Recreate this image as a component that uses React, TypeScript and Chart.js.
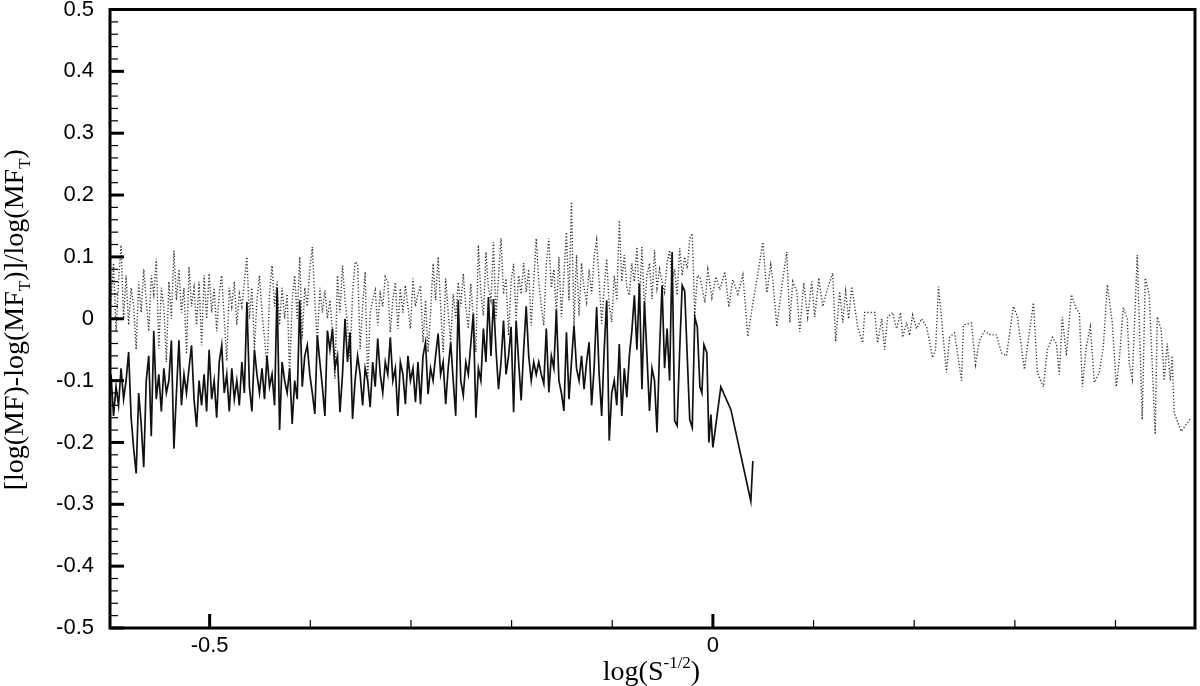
import React, { useEffect, useRef } from "react";
import { Chart, registerables } from "chart.js";

Chart.register(...registerables);

// ---- data ----
const X_START = -0.598;
const X_STEP = 0.0025;

const SOLID_DENSE = [
  -0.09, -0.157, -0.11, -0.14, -0.08, -0.13, -0.1, -0.054, -0.16, -0.21,
  -0.25, -0.12, -0.17, -0.24, -0.1, -0.06, -0.19, -0.02, -0.13, -0.09,
  -0.15, -0.08, -0.12, -0.1, -0.035, -0.21, -0.12, -0.035, -0.14, -0.09,
  -0.12, -0.08, -0.043, -0.13, -0.175, -0.1, -0.14, -0.09, -0.15, -0.05,
  -0.13, -0.1, -0.16, -0.07, -0.043, -0.12, -0.09, -0.15, -0.08, -0.13,
  -0.1, -0.14, -0.07, -0.12, 0.027, -0.11, -0.15, -0.05, -0.09, -0.12,
  -0.08, -0.13, -0.06, -0.11, -0.09, -0.14, 0.05, -0.18, -0.07, -0.1,
  -0.12, -0.08, -0.17, -0.1, -0.13, 0.03, -0.11, -0.06, -0.043, -0.09,
  -0.12, -0.154, -0.027, -0.07, -0.11, -0.157, -0.019, -0.05, -0.016, -0.08,
  -0.06, -0.151, -0.09, 0.0, -0.07, -0.022, -0.162, -0.1, -0.06, -0.09,
  -0.14, -0.08, -0.1, -0.143, -0.07, -0.11, -0.032, -0.09, -0.12, -0.07,
  -0.09, -0.03, -0.1, -0.08, -0.157, -0.07, -0.09, -0.138, -0.06, -0.1,
  -0.08, -0.135, -0.07, -0.138, -0.06, -0.038, -0.122, -0.08, -0.1, -0.06,
  -0.024, -0.09, -0.07, -0.138, -0.08, -0.038, -0.1, -0.157, 0.03, -0.1,
  -0.124, -0.07, -0.09, -0.04, 0.008, -0.16, -0.08, -0.1, -0.016, -0.07,
  0.035, -0.06, 0.032, -0.05, -0.114, -0.07, -0.003, -0.09, -0.06, -0.013,
  -0.151, -0.003, -0.07, -0.132, -0.05, 0.02, -0.06, -0.1, -0.07, -0.09,
  -0.07, -0.09, -0.105, -0.016, -0.119, -0.06, -0.08, 0.014, -0.1, -0.12,
  -0.149, -0.022, -0.13, -0.07, -0.011, -0.08, -0.1, -0.06, -0.114, -0.07,
  -0.038, -0.14, -0.08, 0.019, -0.09, -0.157, -0.05, 0.03, -0.197, -0.12,
  -0.1, -0.14, -0.041, -0.157, -0.08, -0.127, -0.06, -0.02, 0.038, -0.05,
  0.057, -0.114, 0.028, -0.06, -0.149, -0.08, -0.1, -0.184, -0.05, 0.054,
  -0.08, -0.016, -0.1, 0.108, -0.165, -0.173, -0.05, 0.054, 0.045, -0.06,
  -0.163, -0.176, 0.003, -0.013,
];

const SOLID_TAIL_X = [-0.0129, -0.0109, -0.0089, -0.006, -0.004, -0.002, 0.0, 0.0079, 0.0179, 0.0377, 0.0397];
const SOLID_TAIL_Y = [-0.11, -0.12, -0.042, -0.055, -0.2, -0.155, -0.208, -0.11, -0.147, -0.295, -0.23];

const DOTTED_DENSE = [
  0.03, 0.09, -0.02, 0.06, 0.119, 0.0, 0.07, -0.01, 0.05, 0.02,
  -0.05, 0.06, 0.01, 0.08, 0.03, -0.02, 0.07, 0.04, 0.097, -0.048,
  0.05, 0.02, -0.07, 0.06, 0.0, 0.11, 0.03, 0.08, 0.01, 0.05,
  -0.057, 0.084, 0.02, 0.05, -0.01, 0.06, -0.043, 0.07, 0.0, 0.073,
  0.01, 0.05, -0.02, 0.04, 0.07, 0.0, -0.068, 0.05, 0.02, 0.06,
  -0.01, 0.04, 0.02, 0.06, 0.1, 0.0, 0.05, -0.049, 0.03, 0.07,
  0.01, -0.03, -0.081, 0.04, 0.086, 0.02, 0.06, -0.01, 0.05, 0.0,
  0.04, -0.092, 0.03, 0.07, 0.0, 0.1, -0.032, 0.05, 0.02, 0.08,
  0.116, 0.03, -0.038, 0.05, 0.01, 0.046, 0.0, 0.03, -0.02, -0.097,
  0.07, 0.01, 0.086, 0.03, -0.01, -0.065, 0.04, 0.092, 0.089, -0.049,
  0.02, 0.076, -0.103, 0.01, 0.03, 0.046, -0.011, 0.04, 0.02, 0.068,
  0.059, -0.022, 0.03, 0.059, -0.016, 0.049, 0.01, 0.054, 0.02, -0.016,
  0.065, 0.02, 0.04, 0.054, -0.038, 0.03, -0.054, 0.01, 0.089, 0.03,
  0.1, 0.02, -0.054, 0.065, 0.01, -0.038, 0.04, 0.0, 0.059, 0.02,
  0.073, 0.02, -0.016, 0.057, 0.0, -0.054, 0.119, 0.04, 0.005, 0.108,
  0.05, 0.03, 0.124, 0.0, 0.07, 0.13, 0.04, 0.065, -0.027, 0.06,
  0.089, 0.0, 0.07, 0.04, 0.09, 0.043, 0.08, -0.011, 0.06, 0.13,
  0.06, 0.02, -0.011, 0.09, 0.13, 0.05, 0.08, 0.005, 0.1, 0.003,
  0.07, 0.14, 0.03, 0.189, -0.011, 0.103, 0.005, 0.09, 0.05, 0.027,
  0.08, 0.04, 0.1, 0.127, 0.06, -0.008, 0.05, 0.097, 0.02, -0.005,
  0.07, 0.03, 0.159, 0.06, 0.103, 0.05, 0.038, 0.09, 0.06, 0.116,
  0.027, 0.116, 0.016, 0.07, 0.09, 0.032, 0.111, 0.05, 0.08, 0.06,
  0.043, 0.09, 0.111, 0.06, 0.08, 0.038, 0.114, 0.07, 0.1, 0.081,
  0.13, 0.138, 0.003, 0.07,
];

const DOTTED_TAIL_X = [
  -0.0129, -0.0079, -0.005, -0.001, 0.003, 0.0069, 0.0119, 0.0159, 0.0198, 0.0248,
  0.0298, 0.0347, 0.0387, 0.0437, 0.0496, 0.0536, 0.0575, 0.0595, 0.0635, 0.0685,
  0.0734, 0.0764, 0.0794, 0.0833, 0.0863, 0.0903, 0.0942, 0.0982, 0.1012, 0.1052,
  0.1091, 0.1131, 0.119, 0.122, 0.126, 0.129, 0.1319, 0.1349, 0.1379, 0.1409,
  0.1438, 0.1488, 0.1508, 0.1558, 0.1607, 0.1637, 0.1677, 0.1706, 0.1736, 0.1786,
  0.1825, 0.1865, 0.1885, 0.1925, 0.1954, 0.1984, 0.2024, 0.2073, 0.2123, 0.2183,
  0.2212, 0.2242, 0.2321, 0.2351, 0.2401, 0.247, 0.249, 0.2569, 0.2609, 0.2649,
  0.2698, 0.2758, 0.2817, 0.2867, 0.2917, 0.2986, 0.3026, 0.3095, 0.3125, 0.3185,
  0.3224, 0.3284, 0.3323, 0.3373, 0.3413, 0.3442, 0.3472, 0.3512, 0.3562, 0.3611,
  0.3641, 0.3671, 0.371, 0.375, 0.379, 0.3839, 0.3879, 0.3919, 0.3968, 0.4008,
  0.4038, 0.4077, 0.4117, 0.4137, 0.4167, 0.4216, 0.4266, 0.4296, 0.4335, 0.4395,
  0.4415, 0.4454, 0.4484, 0.4514, 0.4544, 0.4563, 0.4583, 0.4653, 0.4752,
];
const DOTTED_TAIL_Y = [
  0.068, 0.026, 0.079, 0.034, 0.068, 0.047, 0.076, 0.019, 0.063, 0.04,
  0.071, -0.029, 0.015, 0.063, 0.124, 0.042, 0.087, 0.063, -0.013, 0.052,
  0.108, -0.006, 0.06, 0.044, -0.021, 0.058, 0.003, 0.06, 0.003, 0.066,
  0.02, 0.044, 0.074, -0.037, 0.044, -0.006, 0.044, 0.0, 0.052, 0.02,
  -0.013, -0.039, 0.01, 0.01, 0.01, -0.039, 0.0, -0.05, 0.003, 0.01,
  -0.016, 0.01, -0.03, -0.006, -0.027, 0.006, -0.016, 0.0, -0.013, -0.063,
  -0.05, 0.052, -0.087, -0.03, -0.023, -0.1, -0.01, -0.007, -0.074, -0.035,
  -0.02, -0.026, -0.026, -0.055, -0.06, 0.02, 0.003, -0.082, -0.045, 0.026,
  -0.087, -0.11, -0.05, -0.03, -0.04, -0.09, 0.003, -0.06, 0.039, 0.015,
  0.01, -0.11, -0.045, -0.013, -0.103, -0.087, -0.045, 0.055, -0.006, -0.11,
  -0.066, 0.018, 0.0, -0.072, -0.098, 0.103, -0.163, 0.066, 0.039, -0.187,
  0.003, -0.018, -0.1, -0.04, -0.1, -0.06, -0.152, -0.182, -0.16,
];

const X_MIN = -0.599;
const X_MAX = 0.479;
const Y_MIN = -0.5;
const Y_MAX = 0.5;
const X_TICKS = [-0.5, 0];
const X_MINOR_TICKS = [-0.4, -0.3, -0.2, -0.1, 0.1, 0.2, 0.3, 0.4];
const Y_TICKS = [0.5, 0.4, 0.3, 0.2, 0.1, 0, -0.1, -0.2, -0.3, -0.4, -0.5];
const Y_MINOR_PER_MAJOR = 5;

const Y_TITLE_PARTS = [
  { t: "[log(MF)-log(MF", k: 0 },
  { t: "T", k: -1 },
  { t: ")]/log(MF", k: 0 },
  { t: "T", k: -1 },
  { t: ")", k: 0 },
];
const X_TITLE_PARTS = [
  { t: "log(S", k: 0 },
  { t: "-1/2", k: 1 },
  { t: ")", k: 0 },
];

const SERIF = "'Liberation Serif', 'Times New Roman', serif";
const SANS = "'Liberation Sans', Arial, sans-serif";

function drawParts(ctx: CanvasRenderingContext2D, parts: { t: string; k: number }[], size: number) {
  const fontOf = (k: number) => `${k === 0 ? size : Math.round(size * 0.6)}px ${SERIF}`;
  const widths = parts.map((p) => {
    ctx.font = fontOf(p.k);
    return ctx.measureText(p.t).width;
  });
  const total = widths.reduce((a, b) => a + b, 0);
  let x = -total / 2;
  ctx.textAlign = "left";
  ctx.textBaseline = "alphabetic";
  parts.forEach((p, i) => {
    ctx.font = fontOf(p.k);
    const dy = p.k === -1 ? size * 0.25 : p.k === 1 ? -size * 0.42 : 0;
    ctx.fillText(p.t, x, dy);
    x += widths[i];
  });
}

const framePlugin = {
  id: "frameAndTitles",
  afterDatasetsDraw(chart: any) {
    const { ctx, chartArea: a, scales } = chart;
    const xs = scales.x;
    const ys = scales.y;
    ctx.save();
    ctx.strokeStyle = "#000";
    ctx.lineCap = "butt";
    // y minor ticks
    ctx.lineWidth = 1.2;
    for (let i = 0; i < Y_TICKS.length - 1; i++) {
      const v0 = Y_TICKS[i];
      const v1 = Y_TICKS[i + 1];
      for (let j = 1; j < Y_MINOR_PER_MAJOR; j++) {
        const v = v0 + ((v1 - v0) * j) / Y_MINOR_PER_MAJOR;
        const py = ys.getPixelForValue(v);
        ctx.beginPath();
        ctx.moveTo(a.left, py);
        ctx.lineTo(a.left + 8, py);
        ctx.stroke();
      }
    }
    // y major ticks
    ctx.lineWidth = 3;
    Y_TICKS.forEach((v) => {
      const py = ys.getPixelForValue(v);
      ctx.beginPath();
      ctx.moveTo(a.left, py);
      ctx.lineTo(a.left + 14, py);
      ctx.stroke();
    });
    // x minor ticks
    ctx.lineWidth = 1.2;
    X_MINOR_TICKS.forEach((v) => {
      const px = xs.getPixelForValue(v);
      ctx.beginPath();
      ctx.moveTo(px, a.bottom);
      ctx.lineTo(px, a.bottom - 8);
      ctx.stroke();
    });
    // x major ticks
    ctx.lineWidth = 3;
    X_TICKS.forEach((v) => {
      const px = xs.getPixelForValue(v);
      ctx.beginPath();
      ctx.moveTo(px, a.bottom);
      ctx.lineTo(px, a.bottom - 14);
      ctx.stroke();
    });
    // frame
    ctx.lineWidth = 3;
    ctx.strokeRect(a.left, a.top, a.right - a.left, a.bottom - a.top);
    ctx.restore();

    // axis titles
    ctx.save();
    ctx.fillStyle = "#000";
    ctx.translate((a.left + a.right) / 2 - 1, 680);
    drawParts(ctx, X_TITLE_PARTS, 28);
    ctx.restore();

    ctx.save();
    ctx.fillStyle = "#000";
    ctx.translate(23, (a.top + a.bottom) / 2 + 1);
    ctx.rotate(-Math.PI / 2);
    drawParts(ctx, Y_TITLE_PARTS, 28);
    ctx.restore();
  },
};

export default function App() {
  const canvasRef = useRef<HTMLCanvasElement | null>(null);

  useEffect(() => {
    if (!canvasRef.current) return;
    const solidPoints = SOLID_DENSE.map((y, i) => ({ x: X_START + i * X_STEP, y })).concat(
      SOLID_TAIL_X.map((x, i) => ({ x, y: SOLID_TAIL_Y[i] }))
    );
    const dottedPoints = DOTTED_DENSE.map((y, i) => ({ x: X_START + i * X_STEP, y })).concat(
      DOTTED_TAIL_X.map((x, i) => ({ x, y: DOTTED_TAIL_Y[i] }))
    );

    const chart = new Chart(canvasRef.current, {
      type: "line",
      data: {
        datasets: [
          {
            label: "solid",
            data: solidPoints,
            borderColor: "#111",
            borderWidth: 1.7,
            pointRadius: 0,
            tension: 0,
            fill: false,
          },
          {
            label: "dotted",
            data: dottedPoints,
            borderColor: "#333",
            borderWidth: 1.4,
            borderDash: [1.2, 2],
            pointRadius: 0,
            tension: 0,
            fill: false,
          },
        ],
      },
      options: {
        responsive: false,
        animation: false,
        events: [],
        layout: { padding: { top: 9.5, right: 5, left: 0, bottom: 0 } },
        plugins: {
          legend: { display: false },
          tooltip: { enabled: false },
          title: { display: false },
        },
        scales: {
          x: {
            type: "linear",
            min: X_MIN,
            max: X_MAX,
            grid: { display: false },
            border: { display: false },
            afterBuildTicks: (s: any) => {
              s.ticks = X_TICKS.map((v) => ({ value: v }));
            },
            afterFit: (s: any) => {
              s.height = 58;
              s.paddingLeft = 0;
              s.paddingRight = 0;
            },
            ticks: {
              autoSkip: false,
              maxRotation: 0,
              padding: -3,
              color: "#000",
              font: { family: SANS, size: 22 },
              callback: (v: any) => String(v),
            },
          },
          y: {
            type: "linear",
            min: Y_MIN,
            max: Y_MAX,
            grid: { display: false },
            border: { display: false },
            afterBuildTicks: (s: any) => {
              s.ticks = Y_TICKS.map((v) => ({ value: v }));
            },
            afterFit: (s: any) => {
              s.width = 110;
              s.paddingTop = 0;
              s.paddingBottom = 0;
            },
            ticks: {
              autoSkip: false,
              padding: 8,
              color: "#000",
              font: { family: SANS, size: 22 },
              callback: (v: any) => String(v),
            },
          },
        },
      },
      plugins: [framePlugin],
    });
    return () => chart.destroy();
  }, []);

  return (
    <div style={{ position: "fixed", left: 0, top: 0, width: 1200, height: 686, background: "#fff" }}>
      <canvas ref={canvasRef} width={1200} height={686} style={{ display: "block" }} />
    </div>
  );
}
